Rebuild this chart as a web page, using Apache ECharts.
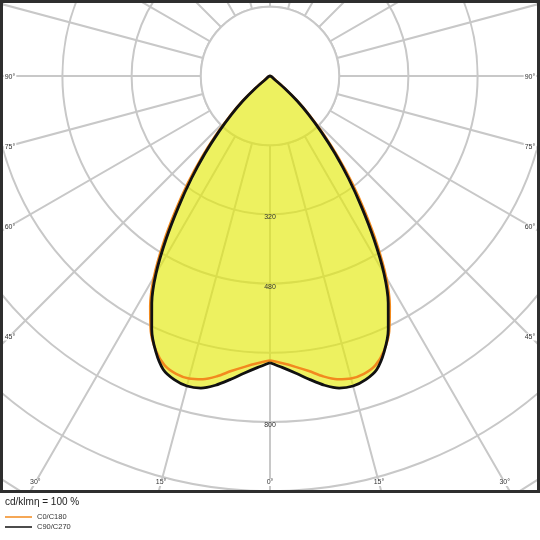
<!DOCTYPE html>
<html lang="en">
<head>
    <meta charset="UTF-8">
    <title>Light distribution</title>
    <style>
        html, body { margin: 0; padding: 0; background: #fff; }
        #container { width: 540px; height: 540px; }
    </style>
</head>
<script type="text/javascript" src="https://fastly.jsdelivr.net/npm/echarts@6.0.0/dist/echarts.min.js"></script>
<body>
<div id="container"></div>

<script type="text/javascript">
    // gamma angles (deg, 0 = straight down) and intensities in cd/klm
    var gammas  = [0, 2.5, 5, 7.5, 10, 12.5, 15, 17.5, 20, 22.5, 25, 27.5, 30, 32.5, 35, 37.5, 40, 42.5, 45, 47.5, 50, 52.5, 55];
    var c0c180  = [658, 665, 675, 688, 705, 718, 724, 722, 712, 688, 652, 600, 537, 460, 382, 312, 245, 185, 133, 88, 47, 17, 0];
    var c90c270 = [663, 675, 690, 708, 726, 739, 742, 736, 722, 690, 647, 592, 527, 447, 368, 298, 234, 176, 127, 84, 44, 15, 0];

    // grid: rings every 160 cd, spokes every 15 deg
    var ringStep = 160;
    var ringMax = 1120;
    var radiusLabels = [320, 480, 800];
    var angleLabels = [0, 15, 30, 45, 60, 75, 90];

    var cx = 270, cy = 76;
    var ringPx = 69.2;
    var gridColor = '#c8c8c8';
    var orange = '#f28a1e';
    var black = '#111111';

    // closed curve: left half (angle = gamma) then right half (angle = 360 - gamma)
    function curve(vals) {
        var pts = [];
        var i;
        for (i = 0; i < gammas.length; i++) {
            pts.push([vals[i], gammas[i]]);
        }
        for (i = gammas.length - 1; i >= 0; i--) {
            pts.push([vals[i], 360 - gammas[i]]);
        }
        return pts;
    }

    // angle labels sit where each spoke meets the inside of the frame
    var labelEls = [];
    angleLabels.forEach(function (a) {
        var t = a * Math.PI / 180;
        [-1, 1].forEach(function (side) {
            if (a === 0 && side === 1) return;
            var x, y;
            if (a <= 30) {
                y = 482.5;
                x = cx + side * (y - cy) * Math.tan(t);
            } else {
                x = side < 0 ? 10 : 530;
                y = cy + 260 / Math.tan(t) + 1;
            }
            labelEls.push({
                type: 'text', x: x, y: y, z: 120,
                style: {
                    text: a + '°', fill: '#333', font: '7px "Liberation Sans"',
                    align: 'center', verticalAlign: 'middle',
                    backgroundColor: '#fff', padding: [0, 1]
                }
            });
        });
    });

    var myChart = echarts.init(document.getElementById('container'), null, {
        renderer: 'canvas'
    });

    var option = {
        animation: false,
        polar: {
            center: [cx, cy],
            radius: ringPx * ringMax / ringStep
        },
        angleAxis: {
            type: 'value',
            min: 0,
            max: 360,
            interval: 15,
            startAngle: 270,
            clockwise: true,
            axisLine: { show: false },
            axisTick: { show: false },
            axisLabel: { show: false },
            splitLine: { lineStyle: { color: gridColor, width: 2 } }
        },
        radiusAxis: {
            type: 'value',
            min: 0,
            max: ringMax,
            interval: ringStep,
            axisLine: { show: false },
            axisTick: { show: false },
            axisLabel: { show: false },
            splitLine: { lineStyle: { color: gridColor, width: 2 } }
        },
        legend: {
            orient: 'vertical',
            left: 5,
            top: 513,
            z: 200,
            icon: 'rect',
            itemWidth: 27,
            itemHeight: 1.5,
            itemGap: 2,
            padding: 0,
            textStyle: { fontSize: 7.5, color: '#333', fontFamily: 'Liberation Sans', padding: [0, 0, 0, 0] },
            data: ['C0/C180', 'C90/C270']
        },
        graphic: [
            { type: 'rect', z: 90, shape: { x: 0, y: 493, width: 540, height: 47 }, style: { fill: '#fff' } },
            { type: 'rect', z: 100, shape: { x: 1.5, y: 1.5, width: 537, height: 490 }, style: { fill: 'none', stroke: '#2e2e2e', lineWidth: 3 } },
            { type: 'text', z: 100, x: 5, y: 502, style: { text: 'cd/klmη = 100 %', fill: '#222', font: '10px "Liberation Sans"', verticalAlign: 'middle' } }
        ].concat(labelEls),
        series: [
            {
                // white centre disc, spokes start at the first ring
                type: 'custom',
                coordinateSystem: 'polar',
                silent: true,
                z: 1,
                data: [[0, 0]],
                renderItem: function (params, api) {
                    var c = api.coord([0, 0]);
                    var e = api.coord([ringStep, 0]);
                    var r = Math.sqrt((e[0] - c[0]) * (e[0] - c[0]) + (e[1] - c[1]) * (e[1] - c[1]));
                    return {
                        type: 'circle',
                        shape: { cx: c[0], cy: c[1], r: r },
                        style: { fill: '#fff', stroke: gridColor, lineWidth: 2 }
                    };
                }
            },
            {
                name: 'fill',
                type: 'line',
                coordinateSystem: 'polar',
                silent: true,
                z: 2,
                smooth: 0.3,
                showSymbol: false,
                lineStyle: { width: 0 },
                areaStyle: { color: 'rgba(228,234,10,0.65)', opacity: 1 },
                data: curve(c90c270)
            },
            {
                name: 'C0/C180',
                type: 'line',
                coordinateSystem: 'polar',
                z: 3,
                smooth: 0.3,
                showSymbol: false,
                itemStyle: { color: orange },
                lineStyle: { color: orange, width: 2.5 },
                data: curve(c0c180)
            },
            {
                name: 'C90/C270',
                type: 'line',
                coordinateSystem: 'polar',
                z: 4,
                smooth: 0.3,
                showSymbol: false,
                itemStyle: { color: black },
                lineStyle: { color: black, width: 2.8 },
                data: curve(c90c270)
            },
            {
                // ring values on the 0 deg spoke
                type: 'custom',
                coordinateSystem: 'polar',
                silent: true,
                z: 5,
                data: radiusLabels.map(function (v) { return [v, 0]; }),
                renderItem: function (params, api) {
                    var p = api.coord([api.value(0), api.value(1)]);
                    return {
                        type: 'text',
                        x: p[0],
                        y: p[1] + 3,
                        style: {
                            text: String(api.value(0)), fill: '#333',
                            font: '7px "Liberation Sans"',
                            align: 'center', verticalAlign: 'middle'
                        }
                    };
                }
            }
        ]
    };

    myChart.setOption(option);
</script>

</body>
</html>
